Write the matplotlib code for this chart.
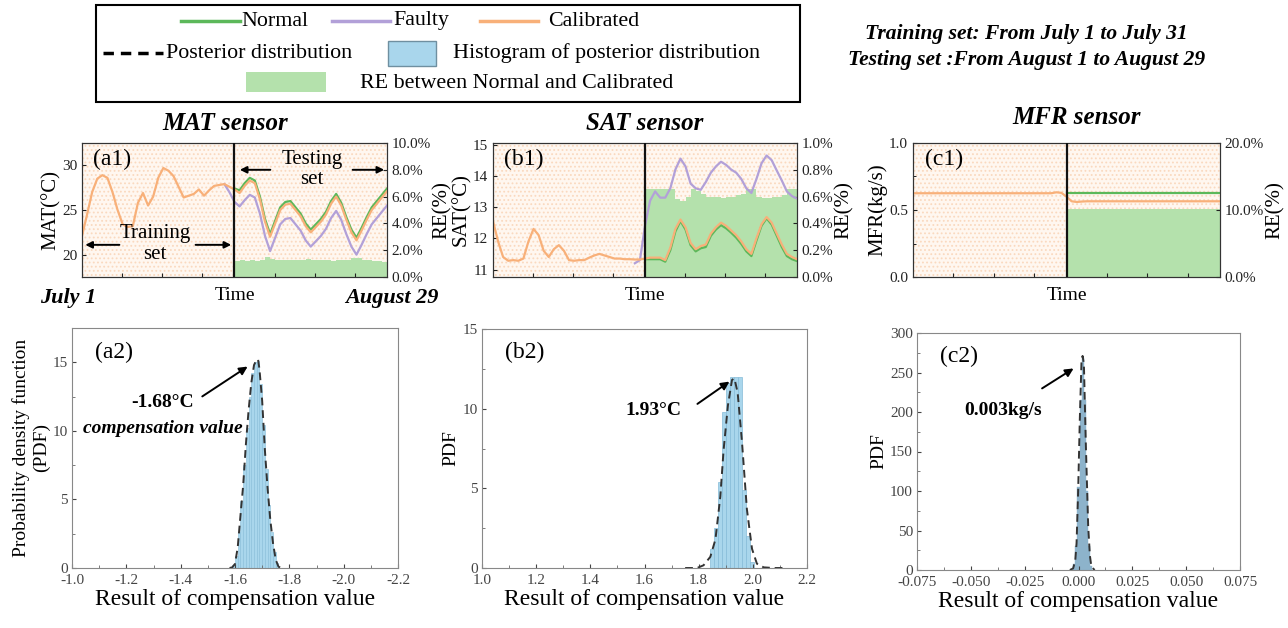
import numpy as np
import matplotlib
matplotlib.use("Agg")
import matplotlib.pyplot as plt
from matplotlib.patches import Rectangle
from matplotlib.ticker import MultipleLocator, FuncFormatter

plt.rcParams["font.family"] = ["Liberation Serif", "DejaVu Serif"]
plt.rcParams["hatch.linewidth"] = 0.8
plt.rcParams["axes.unicode_minus"] = False

GREEN = "#5cb85a"
PURPLE = "#b2a0d8"
ORANGE = "#f8b079"
RE_GREEN = "#b4e1ac"
HIST_BLUE = "#a9d6ec"
HIST_EDGE = "#86bcd8"
HIST_GREY = "#8db3cb"

# ---------------- data (daily values) ----------------
DAYS_TRAIN = np.arange(0, 31)
DAYS_TEST = np.arange(30, 61)
DAYS_RE = np.arange(30, 60) + 0.5

# MAT sensor
mat_train_cal = [22.1, 24.5, 27.0, 28.5, 28.9, 28.6, 27.0, 25.0, 23.4, 23.1, 23.2,
                 25.8, 26.9, 25.5, 26.5, 28.6, 29.7, 29.4, 28.8, 27.6, 26.4, 26.6,
                 26.8, 27.3, 26.6, 27.2, 27.7, 27.8, 27.9, 27.6, 27.3]
mat_test_normal = [27.4, 27.2, 28.0, 28.6, 28.3, 26.5, 24.0, 22.3, 23.8, 25.3, 25.9,
                   26.0, 25.3, 24.6, 23.5, 22.8, 23.4, 24.0, 24.8, 26.0, 26.8, 25.8,
                   24.2, 22.8, 21.9, 23.0, 24.2, 25.3, 26.0, 26.7, 27.4]
mat_faulty_days = np.arange(28, 61)
mat_faulty = [27.9, 27.0, 25.9, 25.4, 26.1, 26.7, 26.4, 24.6, 22.1, 20.4, 21.9, 23.4,
              24.0, 24.1, 23.4, 22.7, 21.6, 20.9, 21.5, 22.1, 22.9, 24.1, 24.9, 23.9,
              22.3, 20.9, 20.0, 21.1, 22.3, 23.4, 24.1, 24.8, 25.5]
mat_test_cal = [27.3, 26.9, 27.7, 28.3, 28.0, 26.2, 23.7, 22.0, 23.5, 25.0, 25.6,
                25.7, 25.0, 24.3, 23.2, 22.5, 23.1, 23.7, 24.5, 25.7, 26.5, 25.5,
                23.9, 22.5, 21.6, 22.7, 23.9, 25.0, 25.7, 26.4, 27.1]
mat_re = [1.2, 1.25, 1.2, 1.3, 1.2, 1.25, 1.5, 1.35, 1.3, 1.25, 1.3, 1.3, 1.25, 1.3,
          1.35, 1.3, 1.3, 1.25, 1.3, 1.2, 1.25, 1.3, 1.25, 1.45, 1.4, 1.3, 1.25, 1.2,
          1.2, 1.15]

# SAT sensor
sat_train_cal = [12.55, 11.9, 11.4, 11.28, 11.3, 11.28, 11.35, 11.9, 12.3, 12.1, 11.6,
                 11.4, 11.65, 11.78, 11.6, 11.3, 11.28, 11.3, 11.3, 11.38, 11.45,
                 11.5, 11.45, 11.4, 11.35, 11.35, 11.33, 11.33, 11.32, 11.32, 11.35]
sat_test_normal = [11.33, 11.33, 11.33, 11.33, 11.25, 11.62, 12.22, 12.55, 12.28,
                   11.78, 11.58, 11.68, 11.72, 12.08, 12.28, 12.42, 12.32, 12.18,
                   12.02, 11.82, 11.58, 11.43, 11.93, 12.4, 12.64, 12.44, 12.08,
                   11.72, 11.43, 11.33, 11.27]
sat_faulty_days = np.arange(28, 61)
sat_faulty = [11.2, 11.3, 12.4, 13.2, 13.5, 13.3, 13.3, 13.6, 14.2, 14.55, 14.3, 13.75,
              13.6, 13.55, 13.8, 14.1, 14.3, 14.45, 14.35, 14.2, 14.1, 13.9, 13.6,
              13.45, 13.9, 14.4, 14.65, 14.5, 14.17, 13.85, 13.5, 13.35, 13.27]
sat_test_cal = [11.35, 11.38, 11.38, 11.38, 11.3, 11.7, 12.3, 12.6, 12.35, 11.85,
                11.65, 11.75, 11.8, 12.15, 12.35, 12.5, 12.4, 12.25, 12.1, 11.9,
                11.65, 11.5, 12.0, 12.45, 12.68, 12.5, 12.15, 11.8, 11.5, 11.4, 11.33]
sat_re = [0.66, 0.66, 0.66, 0.66, 0.66, 0.66, 0.58, 0.57, 0.6, 0.66, 0.64, 0.62, 0.6,
          0.6, 0.6, 0.59, 0.6, 0.6, 0.61, 0.62, 0.66, 0.66, 0.6, 0.59, 0.59, 0.6, 0.6,
          0.61, 0.66, 0.66]

# MFR sensor
mfr_train_cal = [0.625] * 28 + [0.632, 0.628, 0.60]
mfr_test_normal = [0.625] * 31
mfr_test_cal = [0.60, 0.565, 0.56, 0.563] + [0.565] * 27
mfr_re = [10.1] * 30

# posterior histograms and densities
a2_centers = [-1.595, -1.605, -1.615, -1.625, -1.635, -1.645, -1.655, -1.665, -1.675,
              -1.685, -1.695, -1.705, -1.715, -1.725, -1.735, -1.745, -1.755]
a2_heights = [0.2, 0.9, 2.6, 4.9, 7.5, 10.2, 12.5, 14.2, 15.0, 15.1, 13.4, 10.4, 7.2,
              4.6, 2.6, 1.2, 0.35]
a2_curve_x = [-1.58, -1.59, -1.60, -1.61, -1.62, -1.63, -1.64, -1.65, -1.66, -1.67,
              -1.68, -1.685, -1.69, -1.70, -1.71, -1.72, -1.73, -1.74, -1.75, -1.76, -1.77]
a2_curve_y = [0, 0.05, 0.3, 1.5, 3.8, 6.0, 9.0, 11.5, 13.5, 14.8, 15.2, 15.2, 14.5,
              12.2, 8.6, 5.8, 3.5, 1.8, 0.6, 0.1, 0]

b2_centers = [1.8475, 1.8625, 1.8775, 1.8925, 1.9075, 1.9225, 1.9375, 1.9525, 1.9675,
              1.9825, 1.9975]
b2_heights = [1.2, 2.5, 5.4, 9.8, 11.6, 12.0, 12.0, 12.0, 4.9, 2.0, 0.4]
b2_curve_x = [1.75, 1.794, 1.818, 1.843, 1.862, 1.88, 1.892, 1.908, 1.923, 1.932, 1.944,
              1.96, 1.978, 1.997, 2.015, 2.04, 2.077, 2.12]
b2_curve_y = [0, 0, 0.17, 0.7, 1.8, 4.5, 7.4, 10.2, 11.8, 11.9, 11.0, 7.9, 3.7, 1.2,
              0.27, 0.04, 0, 0]

c2_centers = [-0.002, -0.001, 0.0, 0.001, 0.002, 0.003, 0.004, 0.005, 0.006]
c2_heights = [8, 30, 105, 215, 268, 215, 100, 30, 5]
c2_curve_x = [-0.004, -0.0025, -0.0015, -0.0009, -0.00015, 0.0006, 0.0014, 0.0019,
              0.0025, 0.0034, 0.0045, 0.0053, 0.006, 0.0075]
c2_curve_y = [0, 2, 12, 34, 101, 190, 265, 271, 261, 160, 55, 18, 4, 0]

W, H = 1288, 628
fig = plt.figure(figsize=(W / 100, H / 100), dpi=100)


def px_rect(x0, y0, x1, y1):
    return [x0 / W, 1 - y1 / H, (x1 - x0) / W, (y1 - y0) / H]


def top_panel(rect, label, ylabel, ylim, ymajor, yminor, re_max, re_step, re_fmt):
    ax = fig.add_axes(rect)
    ax2 = ax.twinx()
    ax.set_zorder(ax2.get_zorder() + 1)
    ax.patch.set_visible(False)
    ax2.add_patch(Rectangle((0, 0), 1, 1, transform=ax2.transAxes, facecolor="#fff7f0",
                            edgecolor="#fad9bf", hatch="....", lw=0, zorder=0))
    ax.set_xlim(0, 60)
    ax.set_ylim(*ylim)
    ax.yaxis.set_major_locator(MultipleLocator(ymajor))
    if yminor:
        ax.yaxis.set_minor_locator(MultipleLocator(yminor))
    ax.set_xticks([7.9, 15.8, 23.7, 37.9, 45.8, 53.7])
    ax.set_xticklabels([])
    ax2.set_ylim(0, re_max)
    ax2.yaxis.set_major_locator(MultipleLocator(re_step))
    ax2.yaxis.set_major_formatter(FuncFormatter(lambda v, _: re_fmt.format(v)))
    for a in (ax, ax2):
        a.tick_params(direction="in", labelsize=11, length=3, colors="#222222")
        a.tick_params(which="minor", direction="in", length=2)
        for sp in a.spines.values():
            sp.set_color("#333333")
    ax.set_ylabel(ylabel, fontsize=15, labelpad=1)
    ax2.set_ylabel("RE(%)", fontsize=15, labelpad=1)
    ax.set_xlabel("Time", fontsize=14, labelpad=4)
    ax.axvline(30, color="#111111", lw=1.6, zorder=5)
    ax.text(0.1, 0.88, label, transform=ax.transAxes, fontsize=17, ha="center", va="center")
    return ax, ax2


# ---------------- (a1) MAT ----------------
ax, ax2 = top_panel(px_rect(82, 143, 387, 277), "(a1)", "MAT(°C)", (17.5, 32.5), 5, None,
                    10, 2, "{:.1f}%")
ax2.bar(DAYS_RE, mat_re, width=1.0, color=RE_GREEN, lw=0, zorder=1)
ax.plot(DAYS_TEST, mat_test_normal, color=GREEN, lw=1.6)
ax.plot(mat_faulty_days, mat_faulty, color=PURPLE, lw=1.6)
ax.plot(np.concatenate([DAYS_TRAIN, DAYS_TEST[1:]]),
        np.concatenate([mat_train_cal, mat_test_cal[1:]]), color=ORANGE, lw=1.6)
arrow_kw = dict(arrowstyle="-|>", color="black", lw=1.4, mutation_scale=10)
ax.annotate("", xy=(30.5, 29.5), xytext=(37.6, 29.5), arrowprops=arrow_kw)
ax.annotate("", xy=(60, 29.5), xytext=(52.7, 29.5), arrowprops=arrow_kw)
ax.text(45.2, 29.5, "Testing\nset", fontsize=15, ha="center", va="center", linespacing=1.1)
ax.annotate("", xy=(0.1, 21.1), xytext=(7.9, 21.1), arrowprops=arrow_kw)
ax.annotate("", xy=(29.9, 21.1), xytext=(21.8, 21.1), arrowprops=arrow_kw)
ax.text(14.4, 21.2, "Training\nset", fontsize=15, ha="center", va="center", linespacing=1.1)

# ---------------- (b1) SAT ----------------
ax, ax2 = top_panel(px_rect(493, 143, 797, 277), "(b1)", "SAT(°C)", (10.76, 15.05), 1, None,
                    1.0, 0.2, "{:.1f}%")
ax2.bar(DAYS_RE, sat_re, width=1.0, color=RE_GREEN, lw=0, zorder=1)
ax.plot(DAYS_TEST, sat_test_normal, color=GREEN, lw=1.6)
ax.plot(sat_faulty_days, sat_faulty, color=PURPLE, lw=1.6)
ax.plot(np.concatenate([DAYS_TRAIN, DAYS_TEST[1:]]),
        np.concatenate([sat_train_cal, sat_test_cal[1:]]), color=ORANGE, lw=1.6)

# ---------------- (c1) MFR ----------------
ax, ax2 = top_panel(px_rect(913, 143, 1220, 277), "(c1)", "MFR(kg/s)", (0, 1.0), 0.5, 0.25,
                    20, 10, "{:.1f}%")
ax2.bar(DAYS_RE, mfr_re, width=1.0, color=RE_GREEN, lw=0, zorder=1)
ax.plot(DAYS_TEST, mfr_test_normal, color=GREEN, lw=1.6)
ax.plot(np.concatenate([DAYS_TRAIN, DAYS_TEST[1:]]),
        np.concatenate([mfr_train_cal, mfr_test_cal[1:]]), color=ORANGE, lw=1.6)


# ---------------- bottom row ----------------
def bottom_panel(rect, label, xlim, xmajor, xminor, ylim, ymajor, yminor, ylabel, xfmt):
    ax = fig.add_axes(rect)
    ax.set_xlim(*xlim)
    ax.set_ylim(*ylim)
    ax.xaxis.set_major_locator(MultipleLocator(xmajor))
    ax.xaxis.set_minor_locator(MultipleLocator(xminor))
    ax.yaxis.set_major_locator(MultipleLocator(ymajor))
    ax.yaxis.set_minor_locator(MultipleLocator(yminor))
    ax.xaxis.set_major_formatter(FuncFormatter(lambda v, _: xfmt.format(v)))
    ax.tick_params(direction="in", labelsize=11, length=3, colors="#444444")
    ax.tick_params(axis="x", pad=4)
    ax.tick_params(axis="y", pad=3)
    ax.tick_params(which="minor", direction="in", length=2, colors="#666666")
    for sp in ax.spines.values():
        sp.set_color("#888888")
    ax.set_xlabel("Result of compensation value", fontsize=17, labelpad=2)
    ax.set_ylabel(ylabel, fontsize=14, labelpad=2)
    ax.text(0.13, 0.9, label, transform=ax.transAxes, fontsize=17, ha="center", va="center")
    return ax


ax = bottom_panel(px_rect(72, 328, 398, 568), "(a2)", (-1.0, -2.2), 0.2, 0.1, (0, 17.5), 5, 2.5,
                  "Probability density function\n(PDF)", "{:.1f}")
ax.bar(a2_centers, a2_heights, width=0.01, color=HIST_BLUE, edgecolor=HIST_EDGE, lw=0.4)
ax.plot(a2_curve_x, a2_curve_y, color="#333333", ls=(0, (4, 2.5)), lw=1.4)
ax.annotate("", xy=(-1.655, 14.8), xytext=(-1.471, 12.4),
            arrowprops=dict(arrowstyle="-|>", color="black", lw=1.4, mutation_scale=12))
ax.text(-1.335, 12.05, "-1.68°C", fontsize=14, fontweight="bold", ha="center", va="center")
ax.text(-1.335, 10.2, "compensation value", fontsize=14, fontweight="bold", style="italic",
        ha="center", va="center")

ax = bottom_panel(px_rect(482, 329, 807, 568), "(b2)", (1.0, 2.2), 0.2, 0.1, (0, 15), 5, 2.5,
                  "PDF", "{:.1f}")
ax.bar(b2_centers, b2_heights, width=0.015, color=HIST_BLUE, edgecolor=HIST_EDGE, lw=0.5)
ax.plot(b2_curve_x, b2_curve_y, color="#333333", ls=(0, (4, 2.5)), lw=1.4)
ax.annotate("", xy=(1.922, 11.8), xytext=(1.787, 10.2),
            arrowprops=dict(arrowstyle="-|>", color="black", lw=1.4, mutation_scale=12))
ax.text(1.632, 9.9, "1.93°C", fontsize=14, fontweight="bold", ha="center", va="center")

ax = bottom_panel(px_rect(917, 333, 1240, 570), "(c2)", (-0.075, 0.075), 0.025, 0.0125,
                  (0, 300), 50, 25, "PDF", "{:.3f}")
ax.bar(c2_centers, c2_heights, width=0.001, color=HIST_GREY, edgecolor=HIST_GREY, lw=0.3)
ax.plot(c2_curve_x, c2_curve_y, color="#333333", ls=(0, (4, 2.5)), lw=1.4)
ax.annotate("", xy=(-0.0012, 257), xytext=(-0.018, 228),
            arrowprops=dict(arrowstyle="-|>", color="black", lw=1.4, mutation_scale=12))
ax.text(-0.035, 202, "0.003kg/s", fontsize=14, fontweight="bold", ha="center", va="center")

# ---------------- overlay: legend box, titles, notes ----------------
ov = fig.add_axes([0, 0, 1, 1])
ov.set_xlim(0, W)
ov.set_ylim(H, 0)
ov.axis("off")

LEG_FS = 15.8
ov.add_patch(Rectangle((96, 5), 704, 97, facecolor="none", edgecolor="black", lw=1.5))
ov.plot([181, 240], [21, 21], color=GREEN, lw=2.5)
ov.text(241, 21, "Normal", fontsize=LEG_FS, va="center")
ov.plot([332, 390], [21, 21], color=PURPLE, lw=2.5)
ov.text(393, 21, "Faulty", fontsize=LEG_FS, va="center")
ov.plot([480, 538], [21, 21], color=ORANGE, lw=2.5)
ov.text(548, 21, "Calibrated", fontsize=LEG_FS, va="center")
ov.plot([103, 163], [53, 53], color="black", lw=2.5, ls=(0, (3, 2)))
ov.text(166, 53, "Posterior distribution", fontsize=LEG_FS, va="center")
ov.add_patch(Rectangle((388, 41), 48, 25, facecolor=HIST_BLUE, edgecolor="#6f8fa0", lw=1))
ov.text(453, 53, "Histogram of posterior distribution", fontsize=LEG_FS, va="center")
ov.add_patch(Rectangle((246, 72), 80, 20, facecolor=RE_GREEN, edgecolor="none"))
ov.text(360, 84, "RE between Normal and Calibrated", fontsize=LEG_FS, va="center")

ov.text(865, 34, "Training set: From July 1 to July 31", fontsize=15.5, fontweight="bold",
        style="italic", va="center")
ov.text(848, 60, "Testing set :From August 1 to August 29", fontsize=15.5, fontweight="bold",
        style="italic", va="center")

for x, y, t in [(225, 123, "MAT sensor"), (645, 123, "SAT sensor"), (1077, 117, "MFR sensor")]:
    ov.text(x, y, t, fontsize=18, fontweight="bold", style="italic", ha="center", va="center")
ov.text(40, 298, "July 1", fontsize=16, fontweight="bold", style="italic", va="center")
ov.text(345, 298, "August 29", fontsize=16, fontweight="bold", style="italic", va="center")

fig.savefig("out.png", dpi=100)
